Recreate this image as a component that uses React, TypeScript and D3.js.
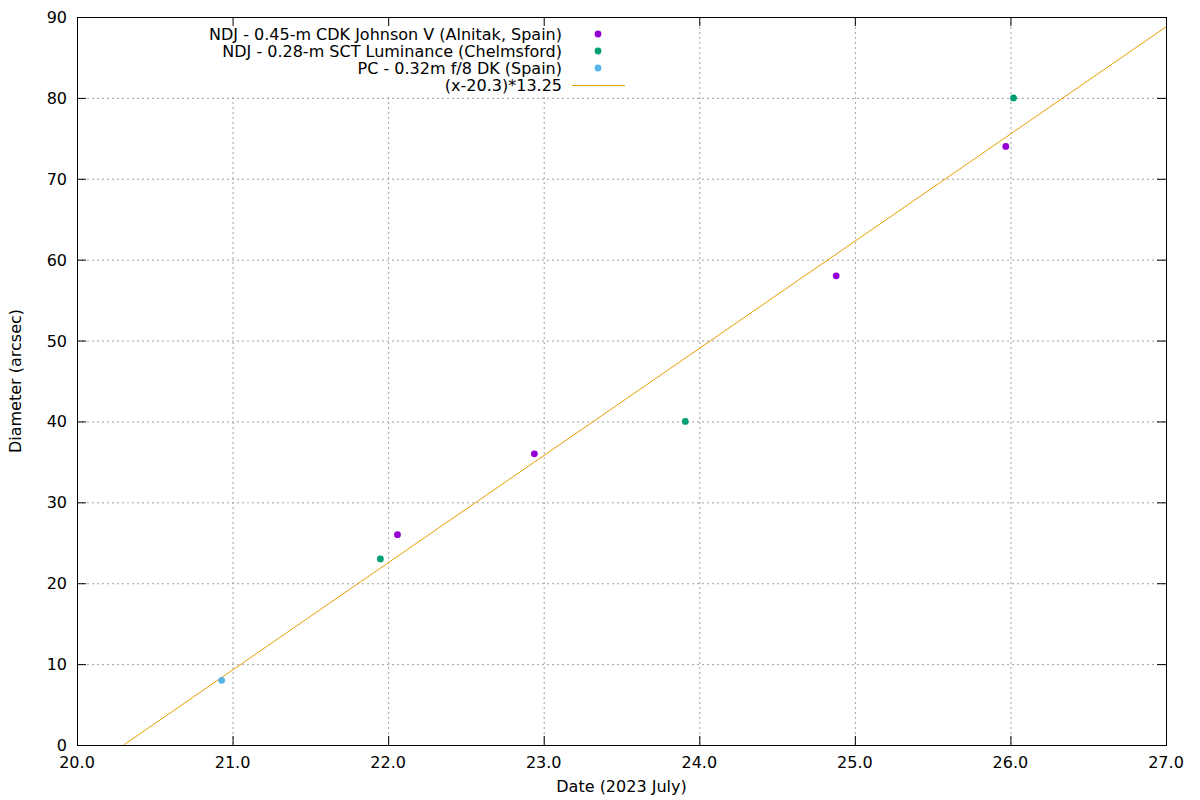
import * as d3 from "d3";

// observations: day of July 2023, diameter in arcsec
const ndjCdkDates = [22.06, 22.94, 24.88, 25.97];
const ndjCdkDiam = [26, 36, 58, 74];
const ndjSctDates = [21.95, 23.91, 26.02];
const ndjSctDiam = [23, 40, 80];
const pcDates = [20.93];
const pcDiam = [8];

const xTicks = [20, 21, 22, 23, 24, 25, 26, 27];
const yTicks = [0, 10, 20, 30, 40, 50, 60, 70, 80, 90];

const fitT0 = 20.3;
const fitRate = 13.25;

const series = [
  { name: "NDJ - 0.45-m CDK Johnson V (Alnitak, Spain)", color: "#9400d3", xs: ndjCdkDates, ys: ndjCdkDiam },
  { name: "NDJ - 0.28-m SCT Luminance (Chelmsford)", color: "#009e73", xs: ndjSctDates, ys: ndjSctDiam },
  { name: "PC - 0.32m f/8 DK (Spain)", color: "#56b4e9", xs: pcDates, ys: pcDiam },
];
const fitLabel = "(x-20.3)*13.25";
const fitColor = "#e69f00";

const W = 1200;
const H = 800;
const m = { left: 77, right: 1166, top: 17, bottom: 745 };
const font = "DejaVu Sans, sans-serif";
const fs = 16;

export default function App() {
  const x = d3.scaleLinear().domain([20, 27]).range([m.left, m.right]);
  const y = d3.scaleLinear().domain([0, 90]).range([m.bottom, m.top]);

  const x1 = 27;
  const fitPts: [number, number][] = [
    [fitT0, 0],
    [x1, (x1 - fitT0) * fitRate],
  ];
  const line = d3
    .line<[number, number]>()
    .x((d) => x(d[0]))
    .y((d) => y(d[1]));

  const tick = 9;
  const keyRight = 562;
  const keyY0 = 34;
  const keyStep = 17;

  return (
    <svg width={W} height={H} style={{ position: "absolute", left: 0, top: 0, background: "#fff" }} fontFamily={font}>
      <defs>
        <clipPath id="plot">
          <rect x={m.left} y={m.top} width={m.right - m.left} height={m.bottom - m.top} />
        </clipPath>
      </defs>
      {/* grid */}
      <g stroke="#a0a0a0" strokeWidth={1} strokeDasharray="2,3">
        {xTicks.slice(1, -1).map((t) => (
          <line key={"gx" + t} x1={x(t) + 0.5} x2={x(t) + 0.5} y1={m.top} y2={m.bottom} />
        ))}
        {yTicks.slice(1, -1).map((t) => (
          <line key={"gy" + t} x1={m.left} x2={m.right} y1={y(t) + 0.5} y2={y(t) + 0.5} />
        ))}
      </g>
      {/* opaque key box */}
      <rect x={190} y={m.top + 1} width={450} height={79} fill="#fff" />
      {/* ticks */}
      <g stroke="#000" strokeWidth={1}>
        {xTicks.map((t) => (
          <g key={"tx" + t}>
            <line x1={x(t) + 0.5} x2={x(t) + 0.5} y1={m.bottom} y2={m.bottom - tick} />
            <line x1={x(t) + 0.5} x2={x(t) + 0.5} y1={m.top} y2={m.top + tick} />
          </g>
        ))}
        {yTicks.map((t) => (
          <g key={"ty" + t}>
            <line x1={m.left} x2={m.left + tick} y1={y(t) + 0.5} y2={y(t) + 0.5} />
            <line x1={m.right} x2={m.right - tick} y1={y(t) + 0.5} y2={y(t) + 0.5} />
          </g>
        ))}
      </g>
      {/* tick labels */}
      <g fontSize={fs} fill="#000">
        {xTicks.map((t) => (
          <text key={"lx" + t} x={x(t)} y={m.bottom + 23} textAnchor="middle">
            {d3.format(".1f")(t)}
          </text>
        ))}
        {yTicks.map((t) => (
          <text key={"ly" + t} x={m.left - 10} y={y(t) + 6} textAnchor="end">
            {t}
          </text>
        ))}
      </g>
      {/* axis titles */}
      <text x={(m.left + m.right) / 2} y={792} textAnchor="middle" fontSize={fs}>
        Date (2023 July)
      </text>
      <text transform={`translate(21,${(m.top + m.bottom) / 2}) rotate(-90)`} textAnchor="middle" fontSize={fs}>
        Diameter (arcsec)
      </text>
      {/* fit line */}
      <path d={line(fitPts) || ""} stroke={fitColor} strokeWidth={1} fill="none" clipPath="url(#plot)" />
      {/* points */}
      {series.map((s) =>
        s.xs.map((d, i) => (
          <circle key={s.name + i} cx={x(d)} cy={y(s.ys[i])} r={3.4} fill={s.color} />
        ))
      )}
      {/* frame */}
      <rect x={m.left + 0.5} y={m.top + 0.5} width={m.right - m.left} height={m.bottom - m.top} fill="none" stroke="#000" strokeWidth={1} />
      {/* key */}
      <g fontSize={fs}>
        {series.map((s, i) => (
          <g key={"k" + i}>
            <text x={keyRight} y={keyY0 + i * keyStep + 6} textAnchor="end">
              {s.name}
            </text>
            <circle cx={598} cy={keyY0 + i * keyStep} r={3.4} fill={s.color} />
          </g>
        ))}
        <text x={keyRight} y={keyY0 + 3 * keyStep + 6} textAnchor="end">
          {fitLabel}
        </text>
        <line x1={572} x2={625} y1={keyY0 + 3 * keyStep + 0.5} y2={keyY0 + 3 * keyStep + 0.5} stroke={fitColor} strokeWidth={1} />
      </g>
    </svg>
  );
}
